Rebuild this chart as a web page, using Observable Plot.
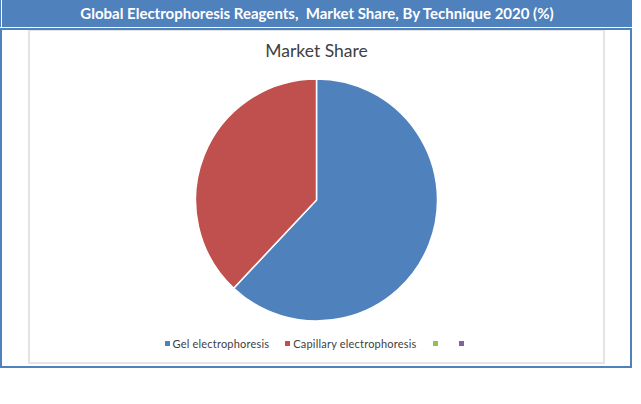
<!DOCTYPE html>
<html>
<head>
<meta charset="utf-8">
<script src="https://cdn.jsdelivr.net/npm/d3@7"></script>
<script src="https://cdn.jsdelivr.net/npm/@observablehq/plot@0.6"></script>
<style>
  html, body { margin: 0; padding: 0; background: #fff; }
  body { width: 641px; height: 404px; position: relative; overflow: hidden; font-family: Lato, "Open Sans", sans-serif; }
  #barWrap { position: absolute; left: 0; top: 0; width: 632px; height: 27px; background: #fff; }
  #barLine { position: absolute; left: 0; top: 0; width: 1px; height: 27px; background: #4F81BD; }
  #bar { position: absolute; left: 2px; top: 0; width: 630px; height: 27px; background: #4F81BD; color: #fff;
         font-weight: bold; font-size: 15px; line-height: 26px; text-align: center; white-space: pre; }
  #frame { position: absolute; left: 0; top: 28px; width: 632px; height: 340px; box-sizing: border-box; border: 2px solid #4F81BD; }
  #inner { position: absolute; left: 28px; top: 30px; width: 577px; height: 334px; box-sizing: border-box; border: 2px solid #E4E4E4; border-top-width: 1px; }
  #chartTitle { position: absolute; left: 28px; top: 40px; width: 577px; text-align: center; font-size: 17.5px; color: #404040; }
  #pie { position: absolute; left: 28px; top: 70px; }
  #legend { position: absolute; left: 28px; top: 337px; width: 577px; display: flex; justify-content: center; font-size: 11px; letter-spacing: 0.2px; color: #404040; }
  .item { display: flex; align-items: center; margin: 0 8px; }
  .sw { width: 5px; height: 5px; margin-right: 3px; }
  .item.empty { margin: 0 9px; }
</style>
</head>
<body>
<div id="barWrap"><div id="barLine"></div><div id="bar"></div></div>
<div id="frame"></div>
<div id="inner"></div>
<div id="chartTitle"></div>
<div id="pie"></div>
<div id="legend"></div>
<script>
const pageTitle = "Global Electrophoresis Reagents,  Market Share, By Technique 2020 (%)";
const chartTitle = "Market Share";
const techniques = ["Gel electrophoresis", "Capillary electrophoresis"];
const shares = [62, 38];
const legendLabels = ["Gel electrophoresis", "Capillary electrophoresis", "", ""];
const legendKeys = ["Gel electrophoresis", "Capillary electrophoresis", "Series 3", "Series 4"];
const colors = ["#4F81BD", "#C0504D", "#9BBB59", "#8064A2"];

document.getElementById("bar").textContent = pageTitle;
document.getElementById("chartTitle").textContent = chartTitle;

const rows = techniques.map((t, i) => ({technique: t, share: shares[i]}));
const W = 577, H = 260, R = 121;

const colorScale = Plot.scale({color: {type: "ordinal", domain: legendKeys, range: colors}});

function pieMark() {
  const g = d3.create("svg:g");
  const cx = W / 2, cy = H / 2;
  const arcs = d3.pie().sort(null).value(d => d.share)(rows);
  const arc = d3.arc().innerRadius(0).outerRadius(R);
  g.selectAll("path").data(arcs).join("path")
    .attr("transform", `translate(${cx},${cy})`)
    .attr("d", arc)
    .attr("fill", d => colorScale.apply(d.data.technique))
    .attr("stroke", "#fff")
    .attr("stroke-width", 1.5)
    .attr("stroke-linejoin", "round");
  return g.node();
}

const chart = Plot.plot({
  width: W, height: H, margin: 0,
  x: {axis: null, domain: [0, 1]},
  y: {axis: null, domain: [0, 1]},
  marks: [pieMark]
});
document.getElementById("pie").appendChild(chart);

const leg = document.getElementById("legend");
legendKeys.forEach((k, i) => {
  const it = document.createElement("div");
  it.className = "item" + (legendLabels[i] ? "" : " empty");
  const sw = document.createElement("div");
  sw.className = "sw";
  sw.style.background = colorScale.apply(k);
  it.appendChild(sw);
  if (legendLabels[i]) {
    const s = document.createElement("span");
    s.textContent = legendLabels[i];
    it.appendChild(s);
  }
  leg.appendChild(it);
});
</script>
</body>
</html>
